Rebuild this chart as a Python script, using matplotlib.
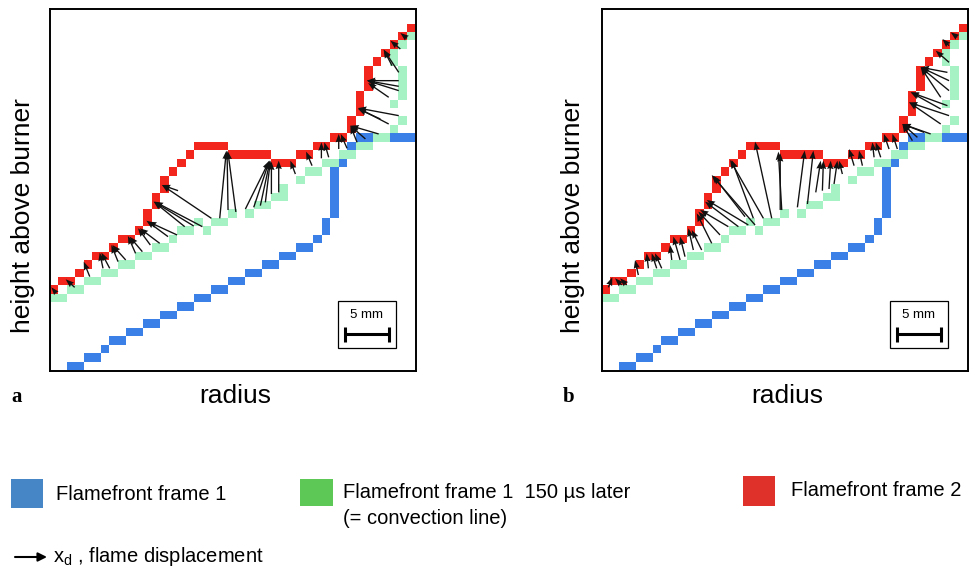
import numpy as np
import matplotlib
matplotlib.use("Agg")
import matplotlib.pyplot as plt
from matplotlib.patches import Rectangle

# pixel runs of the three flame fronts: (row, first column, number of cells)
BLUE_RUNS = [
    (0, 2, 2), (1, 4, 2), (2, 6, 1), (3, 7, 2), (4, 9, 2), (5, 11, 2), (6, 13, 2),
    (7, 15, 2), (8, 17, 2), (9, 19, 2), (10, 21, 2), (11, 23, 2), (12, 25, 2),
    (13, 27, 2), (14, 29, 2), (15, 31, 1), (16, 32, 1), (17, 32, 1), (18, 33, 1),
    (19, 33, 1), (20, 33, 1), (21, 33, 1), (22, 33, 1), (23, 33, 1), (24, 34, 1),
    (25, 35, 1), (26, 35, 1), (27, 36, 7),
]
GREEN_RUNS = [
    (8, 0, 2), (9, 2, 2), (10, 4, 2), (11, 6, 2), (12, 8, 2), (13, 10, 2), (14, 12, 2),
    (15, 14, 1), (16, 15, 2), (17, 17, 1), (16, 18, 1), (17, 19, 2), (18, 21, 1),
    (18, 23, 1), (19, 24, 2), (20, 26, 2), (21, 27, 1), (22, 29, 1), (23, 30, 2),
    (24, 32, 2), (25, 34, 2), (26, 36, 2), (27, 38, 2), (28, 40, 1), (29, 41, 1),
    (31, 40, 1), (32, 41, 1), (33, 41, 1), (34, 41, 1), (35, 41, 1), (36, 40, 1),
    (37, 40, 1), (38, 41, 1), (39, 42, 1),
]
RED_RUNS = [
    (9, 0, 1), (10, 1, 2), (11, 3, 1), (12, 4, 1), (13, 5, 2), (14, 7, 1), (15, 8, 2),
    (16, 10, 1), (17, 11, 1), (18, 11, 1), (19, 12, 1), (20, 12, 1), (21, 13, 1),
    (22, 13, 1), (23, 14, 1), (24, 15, 1), (25, 16, 1), (26, 17, 4), (25, 21, 5),
    (24, 26, 3), (25, 29, 2), (26, 31, 2), (27, 33, 2), (28, 35, 1), (29, 35, 1),
    (30, 36, 1), (31, 36, 1), (32, 36, 1), (33, 37, 1), (34, 37, 1), (35, 37, 1),
    (36, 38, 1), (37, 39, 1), (38, 40, 1), (39, 41, 1), (40, 42, 1),
]

# flame displacement vectors (tail x, tail y, head x, head y) in cell units
ARROWS_A = [
    (0.78, 9.07, 0.20, 9.78), (2.94, 9.78, 1.88, 10.73), (4.71, 11.05, 4.00, 12.82),
    (6.27, 12.03, 5.88, 13.89), (7.06, 12.03, 6.08, 13.89), (8.04, 12.82, 7.25, 14.79),
    (8.94, 13.02, 7.37, 14.79), (10.1, 13.8, 9.2, 15.86), (10.9, 14.0, 9.4, 15.78),
    (11.84, 14.79, 10.39, 16.77), (12.94, 14.99, 10.59, 16.77), (13.92, 15.78, 11.37, 17.67),
    (14.98, 15.98, 11.57, 17.56), (15.88, 16.96, 12.24, 19.92), (16.94, 17.04, 12.24, 19.92),
    (17.96, 16.96, 12.35, 19.92), (15.1, 21.22, 13.2, 21.89), (19.02, 17.95, 13.2, 21.89),
    (20.0, 17.95, 20.78, 25.95), (20.98, 18.93, 20.86, 25.95), (21.9, 18.7, 20.95, 25.9),
    (23.02, 19.05, 25.84, 24.77), (24.0, 19.25, 25.84, 24.77), (24.78, 19.45, 25.92, 24.77),
    (25.37, 19.84, 25.96, 24.77), (26.08, 20.83, 26.08, 24.65), (26.94, 21.02, 26.94, 24.77),
    (28.9, 23.19, 28.31, 24.77), (30.86, 24.18, 30.16, 25.84), (31.96, 25.05, 31.96, 26.94),
    (32.82, 25.17, 32.31, 26.94), (34.0, 26.15, 34.0, 27.93), (34.98, 26.23, 34.24, 27.93),
    (36.16, 26.94, 35.37, 28.91), (37.14, 27.34, 35.37, 28.91), (38.7, 27.93, 35.37, 28.91),
    (39.88, 29.11, 36.27, 31.0), (41.06, 30.1, 36.27, 31.0), (38.9, 29.7, 36.27, 30.9),
    (41.06, 33.06, 37.33, 34.24), (41.06, 33.57, 37.33, 34.24), (39.88, 32.27, 37.45, 33.96),
    (41.06, 34.24, 37.33, 34.24), (41.06, 35.22, 39.29, 37.91), (40.27, 36.01, 39.29, 37.91),
    (41.25, 37.99, 40.08, 38.97), (42.04, 39.25, 41.25, 39.88),
]
ARROWS_B = [
    (0.78, 9.78, 1.25, 10.97), (2.35, 10.06, 1.57, 10.85), (2.94, 10.06, 2.16, 10.85),
    (4.31, 11.24, 3.92, 13.02), (5.49, 12.03, 5.29, 13.81), (6.47, 12.03, 5.88, 13.81),
    (7.06, 12.03, 6.27, 13.81), (8.24, 13.02, 8.04, 14.79), (9.22, 13.02, 8.43, 15.78),
    (9.8, 13.41, 9.22, 15.78), (10.78, 14.2, 10.2, 16.77), (11.76, 14.2, 10.59, 16.57),
    (12.94, 14.99, 11.18, 18.54), (13.92, 15.98, 11.37, 18.74), (14.9, 16.96, 11.57, 18.94),
    (16.08, 16.96, 12.16, 19.92), (17.25, 17.16, 12.35, 20.12), (18.04, 17.16, 12.94, 23.07),
    (16.86, 18.14, 13.14, 22.96), (19.02, 17.95, 15.1, 24.85), (17.84, 17.95, 15.29, 24.85),
    (20.0, 17.95, 18.04, 27.02), (21.0, 18.94, 21.0, 25.65), (21.18, 18.93, 20.78, 25.84),
    (23.02, 19.25, 23.88, 25.96), (24.2, 19.64, 24.9, 25.96), (25.18, 21.02, 25.76, 24.77),
    (25.96, 21.22, 26.08, 24.77), (26.74, 21.42, 26.94, 24.77), (27.33, 22.01, 27.73, 24.77),
    (28.31, 23.19, 27.92, 24.77), (29.69, 24.18, 29.1, 26.15), (30.67, 24.18, 30.27, 25.96),
    (32.04, 25.17, 31.84, 26.94), (32.82, 25.17, 32.23, 26.94), (33.8, 26.15, 33.2, 27.93),
    (34.78, 26.15, 34.2, 27.93), (36.55, 27.14, 35.37, 29.11), (37.14, 27.53, 35.37, 29.11),
    (37.92, 28.12, 35.37, 29.11), (38.7, 27.93, 35.37, 29.11), (39.88, 29.11, 36.16, 31.67),
    (40.86, 30.1, 36.16, 31.67), (39.88, 30.89, 36.35, 32.86), (40.67, 31.28, 36.35, 32.86),
    (40.86, 33.06, 37.53, 35.82), (40.86, 34.24, 37.53, 35.82), (40.67, 35.22, 37.53, 35.82),
    (39.88, 32.27, 37.53, 35.82), (40.86, 36.41, 39.29, 37.79), (40.86, 38.38, 40.08, 39.17),
    (41.84, 39.37, 41.06, 39.96),
]

BLUE = "#3b80e6"
GREEN = "#a6f2c4"
RED = "#f3261d"

LEGEND_LABELS = ["Flamefront frame 1", "Flamefront frame 1  150 \u00b5s later",
                 "Flamefront frame 2"]
LEGEND_COLORS = ["#4685c6", "#5ec856", "#e0302a"]

SANS = ["Liberation Sans", "DejaVu Sans"]


def draw_runs(ax, runs, color):
    rows = np.array([r[0] for r in runs], dtype=float)
    cols = np.array([r[1] for r in runs], dtype=float)
    ncell = np.array([r[2] for r in runs], dtype=float)
    ax.bar(cols, 1.0, width=ncell, bottom=rows, align="edge",
           color=color, linewidth=0, zorder=2)


def draw_panel(ax, arrows):
    draw_runs(ax, BLUE_RUNS, BLUE)
    draw_runs(ax, GREEN_RUNS, GREEN)
    draw_runs(ax, RED_RUNS, RED)

    a = np.array(arrows)
    ax.quiver(a[:, 0], a[:, 1], a[:, 2] - a[:, 0], a[:, 3] - a[:, 1],
              angles="xy", scale_units="xy", scale=1, color="#111111",
              width=0.0037, headwidth=4.6, headlength=6.2, headaxislength=5.6,
              zorder=4)

    # 5 mm scale box
    ax.add_patch(Rectangle((33.9, 2.6), 6.8, 5.6, fill=False, lw=0.9,
                           ec="black", zorder=5))
    ax.plot([34.7, 39.9], [4.26, 4.26], color="black", lw=2.2, zorder=6,
            solid_capstyle="butt")
    for xe in (34.7, 39.9):
        ax.plot([xe, xe], [3.35, 5.12], color="black", lw=2.2, zorder=6,
                solid_capstyle="butt")
    ax.text(37.3, 6.5, "5 mm", ha="center", va="center", fontsize=9.5,
            family=SANS, zorder=6)

    ax.set_xlim(0.035, 43.09)
    ax.set_ylim(-0.12, 42.72)
    ax.set_xticks([])
    ax.set_yticks([])
    for sp in ax.spines.values():
        sp.set_linewidth(1.4)
        sp.set_color("black")


def main():
    fig = plt.figure(figsize=(9.7, 5.7), dpi=100)

    ax_a = fig.add_axes([50 / 970, 1 - 371 / 570, 366 / 970, 362 / 570])
    ax_b = fig.add_axes([602 / 970, 1 - 371 / 570, 366 / 970, 362 / 570])
    draw_panel(ax_a, ARROWS_A)
    draw_panel(ax_b, ARROWS_B)

    # overlay in pixel coordinates for labels and the legend
    ov = fig.add_axes([0, 0, 1, 1], zorder=-1)
    ov.set_xlim(0, 970)
    ov.set_ylim(570, 0)
    ov.axis("off")

    for x_lab, x_rad in ((23, 235), (573, 787)):
        ov.text(x_lab, 216, "height above burner", rotation=90, ha="center",
                va="center", fontsize=19, family=SANS)
        ov.text(x_rad, 396, "radius", ha="center", va="center", fontsize=19,
                family=SANS)
    ov.text(11, 397, "a", ha="left", va="center", fontsize=15,
            fontweight="bold", family="Liberation Serif")
    ov.text(563, 397, "b", ha="left", va="center", fontsize=15,
            fontweight="bold", family="Liberation Serif")

    # legend
    sq = [(11, 479, 32, 29), (300, 479, 33, 27), (743, 476, 32, 30)]
    txt = [(56, 494), (343, 493), (791, 490)]
    for (x, y, w, h), (tx, ty), lab, col in zip(sq, txt, LEGEND_LABELS, LEGEND_COLORS):
        ov.add_patch(Rectangle((x, y), w, h, color=col, lw=0))
        ov.text(tx, ty, lab, ha="left", va="center", fontsize=14.5, family=SANS)
    ov.text(343, 519, "(= convection line)", ha="left", va="center",
            fontsize=14.5, family=SANS)
    ov.annotate("", xy=(47, 557), xytext=(15, 557),
                arrowprops=dict(arrowstyle="-|>", lw=1.5, color="black",
                                mutation_scale=13, shrinkA=0, shrinkB=0))
    ov.text(53, 556, r"x$_\mathregular{d}$ , flame displacement", ha="left",
            va="center", fontsize=14.5, family=SANS)

    fig.savefig("out.png", dpi=100)
    plt.close(fig)


if __name__ == "__main__":
    main()
